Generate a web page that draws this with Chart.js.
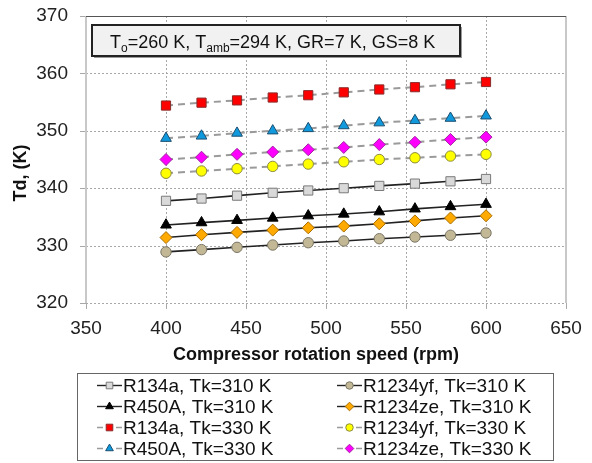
<!DOCTYPE html>
<html>
<head>
<meta charset="utf-8">
<script src="https://cdn.jsdelivr.net/npm/chart.js@4/dist/chart.umd.min.js"></script>
<style>
  html, body { margin: 0; padding: 0; background: #fff; }
  #wrap { width: 592px; height: 463px; }
</style>
</head>
<body>
<div id="wrap"><canvas id="tdChart" width="592" height="463"></canvas></div>
<script>
// compressor speed (rpm), 10 points from 400 to 600
const speeds = [400, 422.2, 444.4, 466.7, 488.9, 511.1, 533.3, 555.6, 577.8, 600];

// discharge temperature Td (K)
const r134a310 = [337.8, 338.2, 338.7, 339.2, 339.6, 340.0, 340.4, 340.8, 341.2, 341.6];
const r1234yf310 = [328.9, 329.3, 329.7, 330.1, 330.5, 330.8, 331.2, 331.5, 331.8, 332.2];
const r450a310 = [333.6, 334.0, 334.4, 334.8, 335.2, 335.5, 335.9, 336.4, 336.8, 337.2];
const r1234ze310 = [331.4, 331.9, 332.3, 332.7, 333.1, 333.4, 333.8, 334.3, 334.8, 335.2];
const r134a330 = [354.4, 354.9, 355.3, 355.8, 356.2, 356.7, 357.2, 357.6, 358.1, 358.5];
const r1234yf330 = [342.6, 343.0, 343.4, 343.8, 344.2, 344.6, 345.0, 345.3, 345.6, 345.9];
const r450a330 = [348.7, 349.1, 349.6, 350.0, 350.4, 350.9, 351.4, 351.8, 352.2, 352.6];
const r1234ze330 = [345.0, 345.4, 345.9, 346.3, 346.7, 347.1, 347.6, 348.0, 348.5, 348.9];

const seriesLabels = [
  "R134a, Tk=310 K", "R1234yf, Tk=310 K",
  "R450A, Tk=310 K", "R1234ze, Tk=310 K",
  "R134a, Tk=330 K", "R1234yf, Tk=330 K",
  "R450A, Tk=330 K", "R1234ze, Tk=330 K"
];
const seriesData = [r134a310, r1234yf310, r450a310, r1234ze310, r134a330, r1234yf330, r450a330, r1234ze330];

const xTicks = [350, 400, 450, 500, 550, 600, 650];
const yTicks = [320, 330, 340, 350, 360, 370];

const styles = [
  { shape: "rect", fill: "#d9d9d9", edge: "#7a7a7a", r: 6.5, hot: false },
  { shape: "circle", fill: "#c2b896", edge: "#7a7565", r: 5.2, hot: false },
  { shape: "triangle", fill: "#000000", edge: "#000000", r: 6.2, hot: false },
  { shape: "rectRot", fill: "#ffaa00", edge: "#a86c00", r: 6, hot: false },
  { shape: "rect", fill: "#ff0000", edge: "#8a2a2a", r: 6.5, hot: true },
  { shape: "circle", fill: "#ffff00", edge: "#8a8a40", r: 5.2, hot: true },
  { shape: "triangle", fill: "#1199dd", edge: "#1a4f70", r: 6.2, hot: true },
  { shape: "rectRot", fill: "#ff00ff", edge: "#a020a0", r: 6, hot: true }
];

const FONT = "'Liberation Sans', Arial, sans-serif";
const plotLeft = 86, plotRight = 566, plotTop = 16, plotBottom = 303, xAxisH = 40;

const datasets = seriesData.map((vals, i) => {
  const s = styles[i];
  return {
    label: seriesLabels[i],
    data: vals.map((v, k) => ({ x: speeds[k], y: v })),
    borderColor: s.hot ? "#9a9a9a" : "#222222",
    borderWidth: s.hot ? 2 : 1.6,
    borderDash: s.hot ? [7, 5] : [],
    pointStyle: s.shape,
    pointRadius: s.r,
    pointBackgroundColor: s.fill,
    pointBorderColor: s.edge,
    pointBorderWidth: 1,
    tension: 0,
    fill: false
  };
});

function marker(ctx, shape, x, y, r, fill, edge) {
  ctx.save();
  ctx.fillStyle = fill;
  ctx.strokeStyle = edge;
  ctx.lineWidth = 1;
  ctx.setLineDash([]);
  ctx.beginPath();
  if (shape === "circle") {
    ctx.arc(x, y, r, 0, Math.PI * 2);
  } else if (shape === "rect") {
    const h = r * Math.SQRT1_2;
    ctx.rect(x - h, y - h, 2 * h, 2 * h);
  } else if (shape === "rectRot") {
    ctx.moveTo(x, y - r); ctx.lineTo(x + r, y); ctx.lineTo(x, y + r); ctx.lineTo(x - r, y);
    ctx.closePath();
  } else if (shape === "triangle") {
    ctx.moveTo(x, y - r);
    ctx.lineTo(x + r * 0.866, y + r * 0.5);
    ctx.lineTo(x - r * 0.866, y + r * 0.5);
    ctx.closePath();
  }
  ctx.fill();
  ctx.stroke();
  ctx.restore();
}

const decorations = {
  id: "decorations",
  beforeDatasetsDraw(chart) {
    const ctx = chart.ctx;
    const a = chart.chartArea;
    const xs = chart.scales.x, ys = chart.scales.y;
    ctx.save();
    // dotted grid + small tick marks
    ctx.strokeStyle = "#a8a8a8";
    ctx.lineWidth = 1;
    xTicks.forEach(v => {
      const px = Math.round(xs.getPixelForValue(v)) + 0.5;
      ctx.setLineDash([2, 2]);
      ctx.beginPath(); ctx.moveTo(px, a.top); ctx.lineTo(px, a.bottom); ctx.stroke();
      ctx.setLineDash([]);
      ctx.beginPath(); ctx.moveTo(px, a.bottom); ctx.lineTo(px, a.bottom + 6); ctx.stroke();
    });
    yTicks.forEach(v => {
      const py = Math.round(ys.getPixelForValue(v)) + 0.5;
      ctx.setLineDash([2, 2]);
      ctx.beginPath(); ctx.moveTo(a.left, py); ctx.lineTo(a.right, py); ctx.stroke();
      ctx.setLineDash([]);
      ctx.beginPath(); ctx.moveTo(a.left - 6, py); ctx.lineTo(a.left, py); ctx.stroke();
    });
    // plot frame
    ctx.strokeStyle = "#c8c8c8";
    ctx.lineWidth = 2;
    ctx.beginPath();
    ctx.moveTo(a.left, a.top); ctx.lineTo(a.left, a.bottom);
    ctx.moveTo(a.right, a.top); ctx.lineTo(a.right, a.bottom);
    ctx.stroke();
    ctx.strokeStyle = "#555";
    ctx.lineWidth = 1;
    ctx.beginPath();
    ctx.moveTo(a.left, a.top + 0.5);
    ctx.lineTo(a.right, a.top + 0.5);
    ctx.stroke();
    ctx.restore();
  },
  afterDraw(chart) {
    const ctx = chart.ctx;
    ctx.save();

    // condition box
    ctx.fillStyle = "#9a9a9a";
    ctx.fillRect(94, 27, 368, 31);
    ctx.fillStyle = "#f1f1f1";
    ctx.fillRect(92, 25, 368, 31);
    ctx.strokeStyle = "#222";
    ctx.lineWidth = 2;
    ctx.strokeRect(92, 25, 368, 31);

    ctx.fillStyle = "#111";
    ctx.textBaseline = "alphabetic";
    ctx.textAlign = "left";
    const base = 48;
    let x = 110;
    const parts = [
      ["T", false], ["o", true], ["=260 K, T", false], ["amb", true],
      ["=294 K, GR=7 K, GS=8 K", false]
    ];
    parts.forEach(([t, sub]) => {
      ctx.font = (sub ? "12px " : "18px ") + FONT;
      ctx.fillText(t, x, sub ? base + 4 : base);
      x += ctx.measureText(t).width;
    });

    // axis titles
    ctx.font = "bold 18px " + FONT;
    ctx.textAlign = "center";
    ctx.textBaseline = "middle";
    ctx.fillText("Compressor rotation speed (rpm)", 316, 355);
    ctx.save();
    ctx.translate(21, 173);
    ctx.rotate(-Math.PI / 2);
    ctx.fillText("Td, (K)", 0, 0);
    ctx.restore();

    // legend box
    ctx.strokeStyle = "#666";
    ctx.lineWidth = 1;
    ctx.strokeRect(77.5, 373.5, 476, 87);
    ctx.font = "19px " + FONT;
    ctx.textAlign = "left";
    ctx.textBaseline = "middle";
    const cols = [97, 337];
    seriesLabels.forEach((label, i) => {
      const s = styles[i];
      const cx = cols[i % 2];
      const cy = 385.5 + Math.floor(i / 2) * 21;
      ctx.save();
      ctx.strokeStyle = s.hot ? "#9a9a9a" : "#222";
      ctx.lineWidth = s.hot ? 1.6 : 1.4;
      ctx.beginPath();
      if (s.hot) {
        ctx.moveTo(cx, cy); ctx.lineTo(cx + 6, cy);
        ctx.moveTo(cx + 19, cy); ctx.lineTo(cx + 25, cy);
      } else {
        ctx.moveTo(cx, cy); ctx.lineTo(cx + 25, cy);
      }
      ctx.stroke();
      ctx.restore();
      marker(ctx, s.shape, cx + 12.5, cy, s.r * 0.72, s.fill, s.edge);
      ctx.fillStyle = "#111";
      ctx.fillText(label, cx + 26, cy + 1);
    });
    ctx.restore();
  }
};

const ctx = document.getElementById("tdChart").getContext("2d");
new Chart(ctx, {
  type: "line",
  data: { datasets: datasets },
  plugins: [decorations],
  options: {
    responsive: false,
    animation: false,
    layout: { padding: { left: 0, right: 592 - plotRight, top: plotTop, bottom: 463 - plotBottom - xAxisH } },
    plugins: {
      legend: { display: false },
      tooltip: { enabled: false }
    },
    scales: {
      x: {
        type: "linear",
        min: xTicks[0],
        max: xTicks[xTicks.length - 1],
        afterBuildTicks: s => { s.ticks = xTicks.map(v => ({ value: v })); },
        afterFit: s => { s.height = xAxisH; s.paddingLeft = 0; s.paddingRight = 0; },
        grid: { display: false },
        border: { display: false },
        ticks: { color: "#222", padding: 6, font: { family: FONT, size: 19 } }
      },
      y: {
        min: yTicks[0],
        max: yTicks[yTicks.length - 1],
        afterBuildTicks: s => { s.ticks = yTicks.map(v => ({ value: v })); },
        afterFit: s => { s.width = plotLeft; s.paddingTop = 0; s.paddingBottom = 0; },
        grid: { display: false },
        border: { display: false },
        ticks: { color: "#222", padding: 10, font: { family: FONT, size: 19 } }
      }
    }
  }
});
</script>
</body>
</html>
